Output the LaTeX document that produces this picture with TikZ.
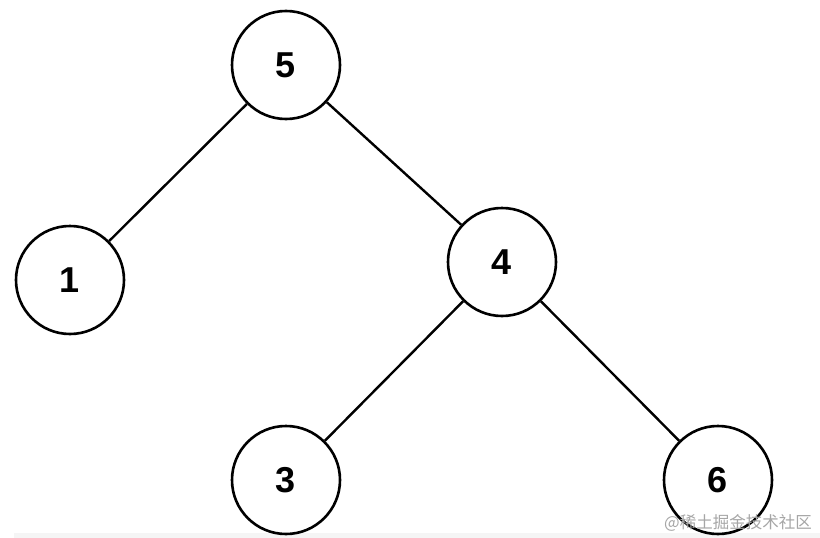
\documentclass[tikz,border=0pt]{standalone}
\usepackage{fontspec}
\setmainfont{Liberation Sans}
\newfontfamily\cjk{Noto Sans CJK SC}
\begin{document}
\begin{tikzpicture}[x=1pt,y=-1pt,
  tnode/.style={circle,draw=black,line width=2.6pt,fill=white,minimum size=108pt,inner sep=0pt,
    font=\fontsize{36}{36}\selectfont\bfseries},
  edge/.style={draw=black,line width=2.4pt}]
\useasboundingbox (0,0) rectangle (820,538);
\fill[white] (0,0) rectangle (820,538);
\fill[black!4] (14,533) rectangle (820,538);
\node[tnode] (n5) at (286,65) {5};
\node[tnode] (n1) at (70,280) {1};
\node[tnode] (n4) at (502,262) {4};
\node[tnode] (n3) at (286,480) {3};
\node[tnode] (n6) at (718,480) {6};
\draw[edge] (n5) -- (n1);
\draw[edge] (n5) -- (n4);
\draw[edge] (n4) -- (n3);
\draw[edge] (n4) -- (n6);
\node[anchor=east,text=black!35,font=\cjk\fontsize{16.5}{16.5}\selectfont,inner sep=0pt] (wm) at (812,523) {@稀土掘金技术社区};
\end{tikzpicture}
\end{document}
